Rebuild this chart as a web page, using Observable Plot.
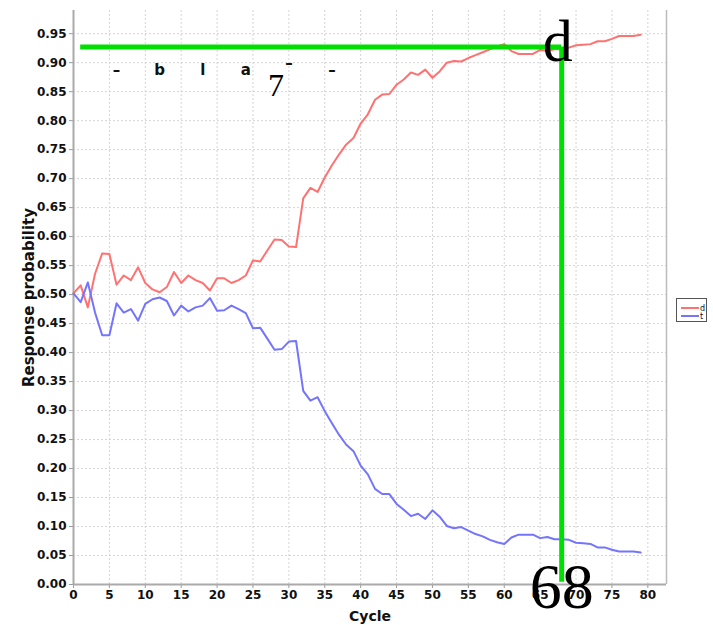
<!DOCTYPE html>
<html><head><meta charset="utf-8">
<script src="https://cdn.jsdelivr.net/npm/d3@7"></script>
<script src="https://cdn.jsdelivr.net/npm/@observablehq/plot@0.6"></script>
<style>
body{margin:0;background:#fff;}
#wrap{position:relative;width:713px;height:625px;}
#legend{position:absolute;left:676px;top:298px;}
</style></head>
<body><div id="wrap"></div>
<script>
const seriesNames = ["d", "t"];
const seriesColors = ["#ff7272", "#7474ff"];
const dValues = [0.502,0.516,0.478,0.536,0.571,0.570,0.517,0.533,0.525,0.547,
0.520,0.509,0.504,0.513,0.539,0.520,0.533,0.525,0.520,0.507,
0.528,0.528,0.520,0.525,0.533,0.559,0.557,0.576,0.595,0.594,
0.583,0.582,0.666,0.684,0.677,0.702,0.723,0.742,0.759,0.770,
0.795,0.811,0.836,0.845,0.846,0.862,0.871,0.883,0.879,0.888,
0.874,0.885,0.900,0.903,0.902,0.908,0.913,0.918,0.923,0.928,
0.932,0.920,0.915,0.915,0.915,0.922,0.920,0.923,0.923,0.926,
0.930,0.931,0.932,0.937,0.937,0.941,0.946,0.946,0.946,0.948];
const tValues = [0.502,0.487,0.521,0.469,0.430,0.430,0.485,0.469,0.475,0.455,
0.484,0.492,0.495,0.489,0.464,0.481,0.471,0.478,0.481,0.494,
0.472,0.473,0.481,0.475,0.468,0.442,0.443,0.424,0.405,0.406,
0.419,0.420,0.334,0.317,0.323,0.299,0.278,0.258,0.241,0.230,
0.205,0.190,0.165,0.156,0.156,0.139,0.129,0.118,0.122,0.113,
0.128,0.117,0.101,0.097,0.099,0.093,0.087,0.083,0.077,0.073,
0.070,0.081,0.086,0.086,0.086,0.080,0.082,0.078,0.078,0.077,
0.072,0.071,0.070,0.064,0.064,0.060,0.057,0.057,0.057,0.055];
const xTicks = [0,5,10,15,20,25,30,35,40,45,50,55,60,65,70,75,80];
const yTicks = [0,0.05,0.1,0.15,0.2,0.25,0.3,0.35,0.4,0.45,0.5,0.55,0.6,0.65,0.7,0.75,0.8,0.85,0.9,0.95];
const xTitle = "Cycle";
const yTitle = "Response probability";
// annotation overlay
const markCycle = 68;
const markLevel = 0.927;
const markStart = 1;
const markBottom = 0.004;
const topLetters = ["–","b","l","a","–","–"];
const topLetterX = [6,12,18,24,30,36];
const topLetterY = [0.879,0.879,0.879,0.879,0.891,0.879];
const sevenLabel = "7"; const sevenX = 28.2; const sevenY = 0.843;
const dLabel = "d"; const dLabelY = 0.903;
const cycleLabel = "68";

const rows = [];
seriesNames.forEach((s, k) => {
  const vals = k === 0 ? dValues : tValues;
  vals.forEach((v, i) => rows.push({cycle: i, value: v, series: s}));
});
const letters = topLetters.map((t, i) => ({t, x: topLetterX[i], y: topLetterY[i]}));

const xMax = 82.6, yMax = 0.99;
const chart = Plot.plot({
  width: 713, height: 625,
  marginLeft: 73, marginRight: 47, marginTop: 10, marginBottom: 41,
  style: {fontFamily: "DejaVu Sans", fontSize: "12px", fontWeight: "bold", color: "#111", background: "#fff"},
  x: {domain: [0, xMax]},
  y: {domain: [0, yMax]},
  color: {domain: seriesNames, range: seriesColors},
  marks: [
    Plot.gridX(xTicks, {stroke: "#d4d4d4", strokeOpacity: 1, strokeDasharray: "2,2"}),
    Plot.gridY(yTicks, {stroke: "#d4d4d4", strokeOpacity: 1, strokeDasharray: "2,2"}),
    Plot.axisX({ticks: xTicks, tickSize: 4, tickPadding: 2, stroke: "#999", fill: "#111", label: null, fontSize: 12}),
    Plot.axisY({ticks: yTicks, tickSize: 4, tickPadding: 3, stroke: "#999", fill: "#111", tickFormat: d3.format(".2f"), label: null, fontSize: 12}),
    Plot.text([xTitle], {frameAnchor: "bottom", dy: 36, fontSize: 14, fontWeight: "bold", fill: "#111", lineAnchor: "bottom"}),
    Plot.text([yTitle], {frameAnchor: "left", dx: -44, rotate: -90, textAnchor: "middle", lineAnchor: "middle", fontSize: 15, fontWeight: "bold", fill: "#111"}),
    Plot.ruleX([xMax], {stroke: "#bbb", strokeWidth: 1.5}),
    Plot.ruleX([0], {stroke: "#aaa", strokeWidth: 2}),
    Plot.ruleY([0], {stroke: "#aaa", strokeWidth: 2}),
    Plot.line(rows, {x: "cycle", y: "value", stroke: "series", strokeWidth: 2}),
    Plot.ruleY([markLevel], {x1: markStart, x2: markCycle, stroke: "#00e000", strokeWidth: 5}),
    Plot.ruleX([markCycle], {y1: markBottom, y2: markLevel, stroke: "#00e000", strokeWidth: 5}),
    Plot.text(letters, {x: "x", y: "y", text: "t", fontSize: 15, fontWeight: "bold", fill: "#111", lineAnchor: "bottom", fontFamily: "DejaVu Sans"}),
    Plot.text([sevenLabel], {x: sevenX, y: sevenY, fontSize: 32, fontWeight: "normal", fontFamily: "Liberation Serif", fill: "#000", lineAnchor: "bottom"}),
    Plot.text([dLabel], {x: markCycle, y: dLabelY, dx: -4, fontSize: 60, fontWeight: "normal", fontFamily: "Liberation Serif", fill: "#000", lineAnchor: "bottom"}),
    Plot.text([cycleLabel], {x: markCycle, y: 0, dy: 23, fontSize: 64, fontWeight: "normal", fontFamily: "Liberation Serif", fill: "#000", lineAnchor: "bottom"})
  ]
});
const wrap = document.getElementById("wrap");
wrap.appendChild(chart);
// legend
const ns = "http://www.w3.org/2000/svg";
const lg = document.createElementNS(ns, "svg");
lg.setAttribute("id", "legend"); lg.setAttribute("width", 32); lg.setAttribute("height", 25);
const rect = document.createElementNS(ns, "rect");
Object.entries({x: 0.5, y: 0.5, width: 30, height: 23, fill: "#fff", stroke: "#555"}).forEach(([k, v]) => rect.setAttribute(k, v));
lg.appendChild(rect);
seriesNames.forEach((s, i) => {
  const y = 10 + i * 8;
  const ln = document.createElementNS(ns, "line");
  Object.entries({x1: 5, x2: 23, y1: y, y2: y, stroke: seriesColors[i], "stroke-width": 2}).forEach(([k, v]) => ln.setAttribute(k, v));
  lg.appendChild(ln);
  const tx = document.createElementNS(ns, "text");
  Object.entries({x: 24, y: y + 3, "font-size": 8, "font-family": "DejaVu Sans", fill: "#111"}).forEach(([k, v]) => tx.setAttribute(k, v));
  tx.textContent = s;
  lg.appendChild(tx);
});
wrap.appendChild(lg);
</script></body></html>
